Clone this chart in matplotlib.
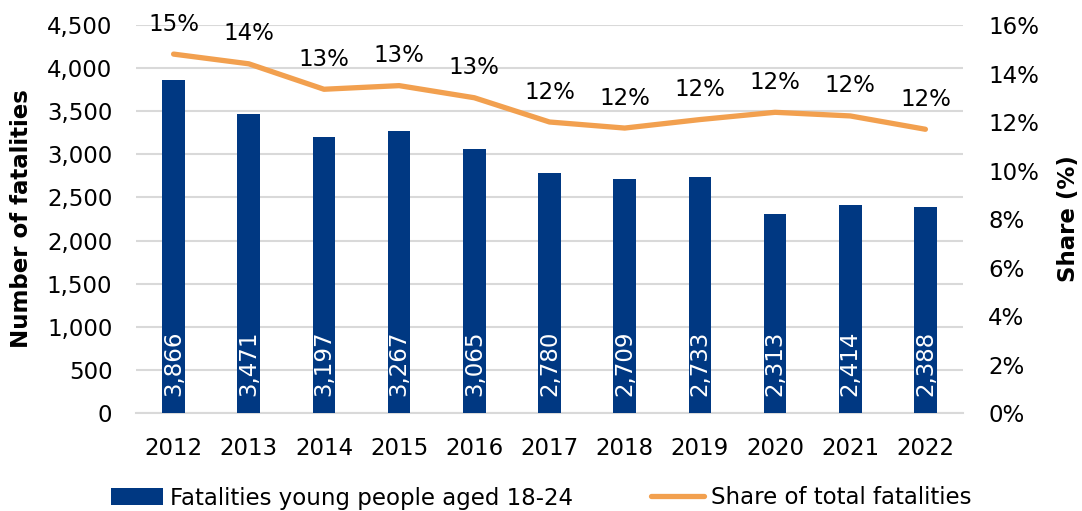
import matplotlib
matplotlib.use("Agg")
import matplotlib.pyplot as plt
from matplotlib.ticker import FuncFormatter, MultipleLocator

years = ["2012", "2013", "2014", "2015", "2016", "2017", "2018", "2019", "2020", "2021", "2022"]
fatalities = [3866, 3471, 3197, 3267, 3065, 2780, 2709, 2733, 2313, 2414, 2388]
share = [14.8, 14.4, 13.35, 13.5, 13.0, 12.0, 11.75, 12.1, 12.4, 12.25, 11.7]
share_labels = ["15%", "14%", "13%", "13%", "13%", "12%", "12%", "12%", "12%", "12%", "12%"]

BLUE = "#003882"
ORANGE = "#F2A04F"
GRID = "#D9D9D9"
FS = 16.5

plt.rcParams['font.family'] = ['DejaVu Sans']

W, H = 1082, 511
L, R, T, B = 136, 963, 25, 413

fig = plt.figure(figsize=(W / 100, H / 100), dpi=100)
ax = fig.add_axes([L / W, 1 - B / H, (R - L) / W, (B - T) / H])
ax2 = ax.twinx()

x = list(range(len(years)))
bars = ax.bar(x, fatalities, width=0.3, color=BLUE, zorder=3,
              label="Fatalities young people aged 18-24")
for xi, v in zip(x, fatalities):
    ax.annotate(f"{v:,}", (xi, 0), xytext=(0, 17), textcoords="offset pixels",
                rotation=90, ha="center", va="bottom",
                color="white", fontsize=FS, zorder=4)

ax.set_ylim(0, 4500)
ax.set_xlim(-0.5, len(years) - 0.5)
ax.yaxis.set_major_locator(MultipleLocator(500))
ax.yaxis.set_major_formatter(FuncFormatter(lambda v, p: f"{int(v):,}"))
ax.set_xticks(x)
ax.set_xticklabels(years)
ax.grid(axis="y", color=GRID, linewidth=1.5, zorder=0)
ax.set_axisbelow(True)
for s in ["top", "left", "right"]:
    ax.spines[s].set_visible(False)
    ax2.spines[s].set_visible(False)
ax.spines["bottom"].set_color(GRID)
ax.spines["bottom"].set_linewidth(1.5)
ax2.spines["bottom"].set_visible(False)
ax.tick_params(axis="y", length=0, labelsize=FS, pad=17)
ax.tick_params(axis="x", length=0, labelsize=FS, pad=17)
ax.set_ylabel("Number of fatalities", fontsize=FS, fontweight="bold", labelpad=10)

line, = ax2.plot(x, share, color=ORANGE, linewidth=3.8, solid_capstyle="round",
                 zorder=5, label="Share of total fatalities")
ax2.set_ylim(0, 16)
ax2.yaxis.set_major_locator(MultipleLocator(2))
ax2.yaxis.set_major_formatter(FuncFormatter(lambda v, p: f"{int(v)}%"))
ax2.tick_params(axis="y", length=0, labelsize=FS, pad=18)
ax2.set_ylabel("Share (%)", fontsize=FS, fontweight="bold", labelpad=13)
for xi, v, lab in zip(x, share, share_labels):
    ax2.annotate(lab, (xi, v), xytext=(0, 30), textcoords="offset pixels",
                 ha="center", va="center", fontsize=FS, color="black")

fig.legend(handles=[bars, line], loc="center", bbox_to_anchor=(0.5, 1 - 498 / H),
           ncol=2, frameon=False, fontsize=FS, handlelength=2.3, columnspacing=3.4,
           handletextpad=0.3, handleheight=0.8)

fig.savefig("out.png", dpi=100)
